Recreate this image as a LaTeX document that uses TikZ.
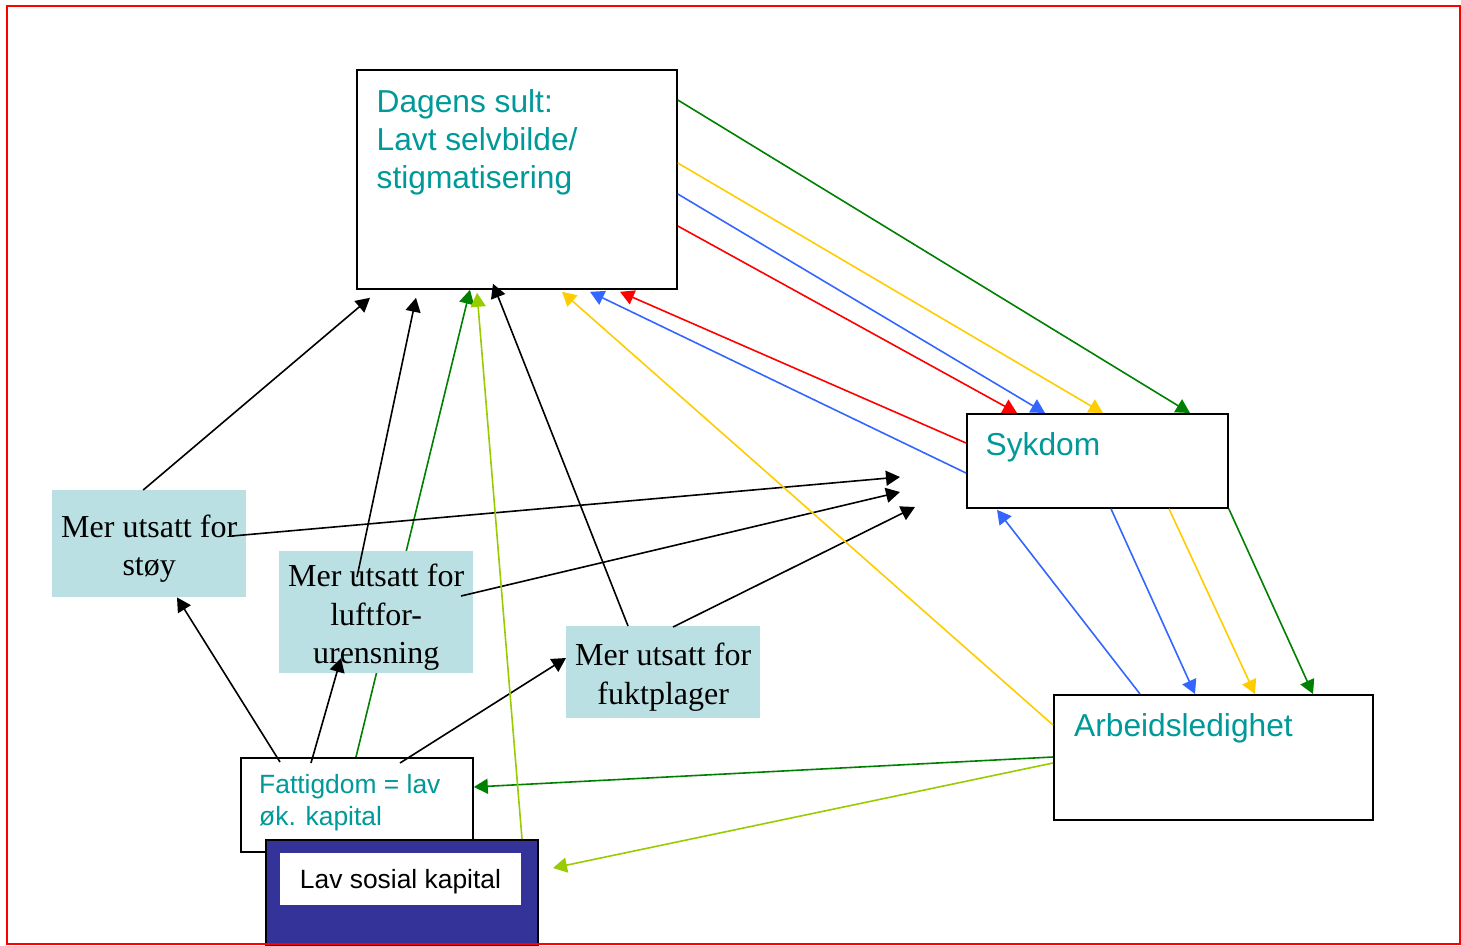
\documentclass[tikz,border=0pt]{standalone}
\usepackage{fontspec}
\setmainfont{Liberation Serif}
\newfontfamily\arialf{Liberation Sans}
\usetikzlibrary{arrows.meta,backgrounds}
\definecolor{ppteal}{HTML}{009999}
\definecolor{pplight}{HTML}{BBE0E3}
\definecolor{ppnavy}{HTML}{333399}
\definecolor{ppgreen}{HTML}{008000}
\definecolor{ppyellow}{HTML}{FFCC00}
\definecolor{ppblue}{HTML}{3366FF}
\definecolor{ppred}{HTML}{FF0000}
\definecolor{pplime}{HTML}{99CC00}
\tikzset{
  framebox/.style={draw=black, line width=1.8pt, fill=white, inner sep=0pt, anchor=north west},
  lightbox/.style={fill=pplight, inner sep=0pt, anchor=north west},
  lighttext/.style={inner sep=0pt, align=center, yshift=-5pt,
    font=\fontsize{32}{38.5}\selectfont},
  tealtext/.style={text=ppteal, inner sep=0pt, align=left, font=\arialf\fontsize{31.7}{38}\selectfont},
  smalltext/.style={inner sep=0pt, align=left, font=\arialf\fontsize{26.4}{32}\selectfont},
  conn/.style={line width=1.6pt, -{Triangle[length=14pt,width=15pt]}},
}
\begin{document}
\begin{tikzpicture}[x=1pt,y=-1pt]
\useasboundingbox (0,0) rectangle (1461,945);

% boxes
\node[framebox, minimum width=320pt, minimum height=219pt] (dagens) at (356,69) {};
\node[framebox, minimum width=261pt, minimum height=94pt] (sykdom) at (966,413) {};
\node[framebox, minimum width=319pt, minimum height=125pt] (arbeid) at (1053,694) {};
\node[framebox, minimum width=232pt, minimum height=94pt] (fattig) at (240,757) {};
\node[draw=black, line width=1.8pt, fill=ppnavy, inner sep=0pt, anchor=north west,
      minimum width=272pt, minimum height=106pt] (lavsos) at (265,839) {};
\node[fill=white, inner sep=0pt, minimum width=241pt, minimum height=52pt, text depth=0pt,
      font=\arialf\fontsize{26.4}{32}\selectfont] (lavtxt) at (400.5,879) {Lav sosial kapital};

\node[lightbox, minimum width=194pt, minimum height=107pt,
      label={[lighttext]center:{Mer utsatt for\\støy}}] (stoy) at (52,490) {};
\node[lightbox, minimum width=194pt, minimum height=122pt,
      label={[lighttext]center:{Mer utsatt for\\luftfor-\\urensning}}] (luft) at (279,551) {};
\node[lightbox, minimum width=194pt, minimum height=92pt,
      label={[lighttext]center:{Mer utsatt for\\fuktplager}}] (fukt) at (566,626) {};

% texts
\node[tealtext, anchor=north west] (dagtxt) at (376.5,89) {Dagens sult:\\Lavt selvbilde/\\stigmatisering};
\node[tealtext, anchor=base west] (syktxt) at (985.5,455) {Sykdom};
\node[tealtext, anchor=base west] (arbtxt) at (1074,736) {Arbeidsledighet};
\node[smalltext, text=ppteal, anchor=north west] (fattxt) at (259,774.5) {Fattigdom = lav\\øk. kapital};

% free ends
\coordinate (n1) at (900,477);
\coordinate (n2) at (900,492);
\coordinate (n3) at (915,507);
\coordinate (n4) at (553,868);

% green line hidden behind the luft box
\begin{pgfonlayer}{background}
\draw[conn, ppgreen] ([xshift=116pt]fattig.north west) -- ([xshift=114pt]dagens.south west);
\end{pgfonlayer}

% black connectors
\draw[conn, black] ([xshift=-6pt]stoy.north) -- ([xshift=14pt,yshift=-8pt]dagens.south west);
\draw[conn, black] ([xshift=78pt,yshift=-26pt]luft.north west) -- ([xshift=60pt,yshift=-8pt]dagens.south west);
\draw[conn, black] ([xshift=62pt]fukt.north west) -- ([xshift=137pt,yshift=6pt]dagens.south west);
\draw[conn, black] ([xshift=180pt,yshift=-46pt]stoy.north west) -- (n1);
\draw[conn, black] ([xshift=182pt,yshift=-45pt]luft.north west) -- (n2);
\draw[conn, black] ([xshift=107pt,yshift=-1pt]fukt.north west) -- (n3);
\draw[conn, black] ([xshift=40pt,yshift=-5pt]fattig.north west) -- ([xshift=125pt]stoy.south west);
\draw[conn, black] ([xshift=71pt,yshift=-6pt]fattig.north west) -- ([xshift=62pt,yshift=-107pt]luft.north west);
\draw[conn, black] ([xshift=160pt,yshift=-6pt]fattig.north west) -- ([yshift=-32pt]fukt.north west);

% green
\draw[conn, ppgreen] ([yshift=-31pt]dagens.north east) -- ([xshift=224pt]sykdom.north west);
\draw[conn, ppgreen] (sykdom.south east) -- ([xshift=260pt]arbeid.north west);
\draw[conn, ppgreen] ([yshift=-63pt]arbeid.north west) -- ([yshift=-30pt]fattig.north east);

% yellow
\draw[conn, ppyellow] ([yshift=-94pt]dagens.north east) -- ([xshift=137pt]sykdom.north west);
\draw[conn, ppyellow] ([xshift=203pt]sykdom.south west) -- ([xshift=202pt]arbeid.north west);
\draw[conn, ppyellow] ([yshift=-31pt]arbeid.north west) -- ([xshift=206pt,yshift=-2pt]dagens.south west);

% blue
\draw[conn, ppblue] ([yshift=-125pt]dagens.north east) -- ([xshift=79pt]sykdom.north west);
\draw[conn, ppblue] ([yshift=-60pt]sykdom.north west) -- ([xshift=234pt,yshift=-2pt]dagens.south west);
\draw[conn, ppblue] ([xshift=145pt]sykdom.south west) -- ([xshift=142pt]arbeid.north west);
\draw[conn, ppblue] ([xshift=87pt]arbeid.north west) -- ([xshift=31pt,yshift=-1pt]sykdom.south west);

% red
\draw[conn, ppred] ([yshift=-157pt]dagens.north east) -- ([xshift=51pt]sykdom.north west);
\draw[conn, ppred] ([yshift=-30pt]sykdom.north west) -- ([xshift=264pt,yshift=-2pt]dagens.south west);

% lime
\draw[conn, pplime] ([xshift=257pt]lavsos.north west) -- ([xshift=121pt,yshift=-3pt]dagens.south west);
\draw[conn, pplime] ([yshift=-69pt]arbeid.north west) -- (n4);

% outer frame
\draw[red, line width=2pt] (6.5,5.5) rectangle (1459.5,943.5);
\end{tikzpicture}
\end{document}
